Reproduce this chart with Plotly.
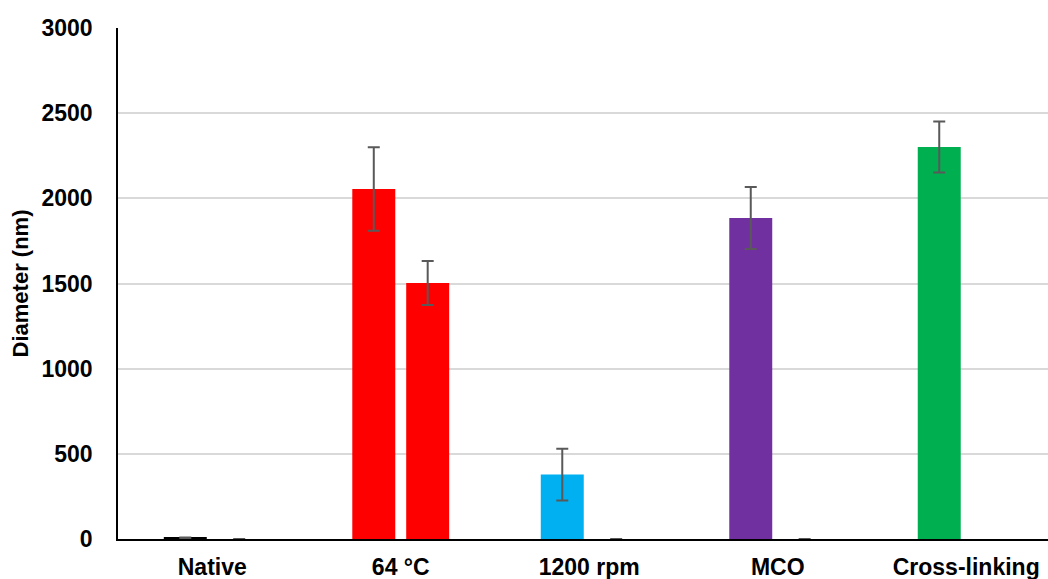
import plotly.graph_objects as go

categories = ["Native", "64 °C", "1200 rpm", "MCO", "Cross-linking"]
series1 = [6, 2055, 378, 1885, 2301]
series1_err = [3, 245, 152, 182, 150]
series2 = [0, 1503, 0, 0, None]
series2_err = [0, 129, 0, 0, None]
bar_colors = ["#000000", "#FF0000", "#00B0F0", "#7030A0", "#00B050"]
y_ticks = [0, 500, 1000, 1500, 2000, 2500, 3000]

x = list(range(len(categories)))
font_family = "Arial, Liberation Sans, sans-serif"

fig = go.Figure()
fig.add_trace(go.Bar(
    x=x, y=series1, offset=-0.257, width=0.228,
    marker=dict(color=bar_colors, line=dict(width=0)),
    error_y=dict(type="data", array=series1_err, color="#595959", thickness=2, width=6),
    showlegend=False,
))
fig.add_trace(go.Bar(
    x=x, y=series2, offset=0.029, width=0.228,
    marker=dict(color=bar_colors, line=dict(width=0)),
    error_y=dict(type="data", array=series2_err, color="#595959", thickness=2, width=6),
    showlegend=False,
))

fig.update_layout(
    width=1048, height=579,
    margin=dict(l=118, r=0, t=28, b=40),
    barmode="overlay",
    plot_bgcolor="white", paper_bgcolor="white",
    font=dict(family=font_family, size=22, color="#000000", weight="bold"),
    xaxis=dict(
        range=[-0.5, 4.434],
        tickvals=x, ticktext=categories,
        showgrid=False, zeroline=False,
        showline=True, linecolor="#000000", linewidth=1.5,
        ticks="", ticklabelstandoff=7,
        tickfont=dict(size=23, family=font_family, weight="bold"),
    ),
    yaxis=dict(
        range=[0, 3000], tickvals=y_ticks,
        showgrid=True, gridcolor="#D9D9D9", gridwidth=1.5,
        zeroline=False,
        showline=True, linecolor="#000000", linewidth=1.5,
        ticks="", ticklabelstandoff=19,
        tickfont=dict(size=23, family=font_family, weight="bold"),
        title=dict(text="Diameter (nm)", standoff=7,
                   font=dict(size=22, family=font_family, weight="bold")),
    ),
)

fig.write_html("out.html")
